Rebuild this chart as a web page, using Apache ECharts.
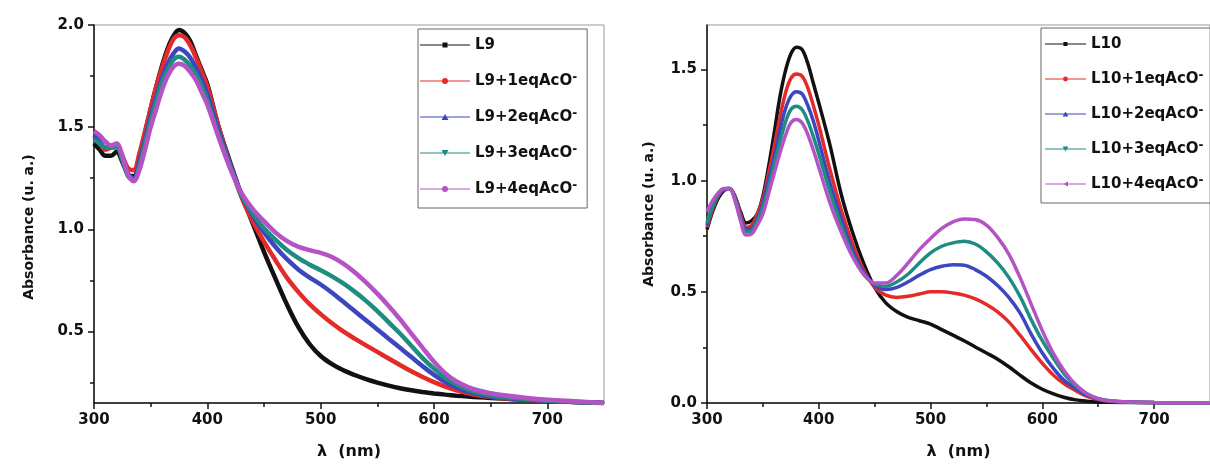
<!DOCTYPE html>
<html><head><meta charset="utf-8">
<script src="https://cdn.jsdelivr.net/npm/echarts@6/dist/echarts.min.js"></script>
<style>html,body{margin:0;padding:0;background:#fff}#c{width:1210px;height:468px}</style>
</head><body><div id="c"></div>
<script>
// wavelength grid (nm) shared by both panels
const wavelengths = [300,305,310,315,320,325,330,335,340,345,350,355,360,365,370,375,380,385,390,395,400,410,420,430,440,450,460,470,480,490,500,510,520,530,540,550,560,570,580,590,600,610,620,630,640,650,660,680,700,725,750];

// Left panel: L9 titration
const L9     = [1.42,1.39,1.36,1.36,1.38,1.33,1.27,1.26,1.35,1.47,1.59,1.70,1.80,1.885,1.945,1.975,1.96,1.92,1.85,1.78,1.71,1.50,1.33,1.17,1.03,0.89,0.76,0.635,0.525,0.44,0.38,0.34,0.31,0.287,0.267,0.25,0.235,0.222,0.212,0.204,0.197,0.191,0.186,0.182,0.178,0.175,0.172,0.166,0.161,0.155,0.15];
const L9_1eq = [1.45,1.42,1.39,1.40,1.41,1.36,1.30,1.29,1.37,1.48,1.59,1.70,1.79,1.87,1.93,1.95,1.94,1.90,1.84,1.77,1.70,1.50,1.32,1.16,1.04,0.94,0.85,0.765,0.695,0.635,0.585,0.54,0.50,0.465,0.432,0.40,0.368,0.336,0.305,0.277,0.252,0.23,0.212,0.198,0.187,0.179,0.173,0.166,0.161,0.155,0.15];
const L9_2eq = [1.46,1.43,1.40,1.41,1.41,1.35,1.27,1.25,1.33,1.44,1.55,1.65,1.74,1.81,1.86,1.885,1.87,1.84,1.79,1.73,1.66,1.48,1.32,1.17,1.07,0.985,0.915,0.855,0.805,0.765,0.73,0.69,0.645,0.60,0.555,0.51,0.465,0.42,0.375,0.33,0.288,0.253,0.226,0.206,0.192,0.182,0.176,0.167,0.161,0.155,0.15];
const L9_3eq = [1.44,1.42,1.40,1.40,1.40,1.34,1.26,1.24,1.31,1.42,1.53,1.63,1.72,1.78,1.83,1.845,1.83,1.80,1.76,1.70,1.63,1.46,1.31,1.17,1.08,1.005,0.95,0.90,0.86,0.828,0.80,0.77,0.735,0.695,0.65,0.60,0.545,0.49,0.43,0.37,0.318,0.273,0.24,0.216,0.199,0.188,0.18,0.17,0.162,0.155,0.15];
const L9_4eq = [1.48,1.46,1.43,1.41,1.42,1.36,1.27,1.235,1.29,1.39,1.50,1.59,1.68,1.75,1.795,1.81,1.80,1.77,1.73,1.67,1.61,1.45,1.30,1.18,1.10,1.04,0.985,0.943,0.915,0.898,0.885,0.865,0.832,0.79,0.74,0.685,0.625,0.56,0.49,0.42,0.352,0.295,0.255,0.228,0.21,0.198,0.189,0.176,0.166,0.158,0.15];

// Right panel: L10 titration
const L10     = [0.78,0.86,0.92,0.955,0.965,0.93,0.86,0.81,0.82,0.85,0.93,1.06,1.21,1.37,1.49,1.57,1.60,1.59,1.53,1.44,1.35,1.16,0.94,0.77,0.63,0.52,0.45,0.41,0.385,0.37,0.355,0.33,0.305,0.28,0.252,0.225,0.197,0.163,0.125,0.09,0.062,0.041,0.025,0.014,0.008,0.004,0.003,0.002,0.001,0.001,0.001];
const L10_1eq = [0.79,0.87,0.93,0.96,0.965,0.93,0.85,0.79,0.80,0.85,0.92,1.03,1.15,1.28,1.39,1.46,1.48,1.47,1.42,1.34,1.25,1.05,0.87,0.72,0.60,0.52,0.485,0.475,0.48,0.49,0.50,0.50,0.495,0.485,0.468,0.443,0.41,0.365,0.305,0.24,0.178,0.125,0.085,0.055,0.03,0.015,0.008,0.004,0.002,0.001,0.001];
const L10_2eq = [0.80,0.88,0.935,0.96,0.965,0.925,0.84,0.78,0.785,0.83,0.90,1.00,1.10,1.22,1.32,1.38,1.40,1.39,1.34,1.27,1.18,0.99,0.83,0.69,0.59,0.53,0.51,0.52,0.545,0.575,0.60,0.615,0.622,0.62,0.60,0.57,0.528,0.475,0.405,0.31,0.225,0.155,0.10,0.065,0.035,0.018,0.009,0.004,0.002,0.001,0.001];
const L10_3eq = [0.81,0.885,0.94,0.962,0.965,0.92,0.83,0.77,0.775,0.82,0.88,0.97,1.07,1.17,1.26,1.32,1.335,1.32,1.27,1.20,1.12,0.95,0.80,0.67,0.58,0.535,0.525,0.545,0.58,0.63,0.675,0.705,0.72,0.727,0.715,0.68,0.63,0.565,0.48,0.375,0.28,0.20,0.128,0.077,0.04,0.02,0.01,0.004,0.002,0.001,0.001];
const L10_4eq = [0.86,0.91,0.945,0.965,0.965,0.91,0.82,0.755,0.76,0.80,0.85,0.94,1.03,1.12,1.20,1.26,1.275,1.26,1.21,1.14,1.06,0.90,0.77,0.66,0.58,0.54,0.54,0.575,0.63,0.69,0.74,0.785,0.815,0.828,0.825,0.80,0.745,0.67,0.565,0.445,0.325,0.222,0.142,0.082,0.042,0.02,0.01,0.004,0.002,0.001,0.001];

const leftNames  = ['L9','L9+1eqAcO-','L9+2eqAcO-','L9+3eqAcO-','L9+4eqAcO-'];
const rightNames = ['L10','L10+1eqAcO-','L10+2eqAcO-','L10+3eqAcO-','L10+4eqAcO-'];
const leftSeries  = [L9, L9_1eq, L9_2eq, L9_3eq, L9_4eq];
const rightSeries = [L10, L10_1eq, L10_2eq, L10_3eq, L10_4eq];

const xMajorTicks = [300,400,500,600,700];
const xMinorTicks = [350,450,550,650];
const leftYMajor  = [0.5,1.0,1.5,2.0];
const leftYMinor  = [0.25,0.75,1.25,1.75];
const rightYMajor = [0.0,0.5,1.0,1.5];
const rightYMinor = [0.25,0.75,1.25];

const colors = ['#111111','#e52a2a','#3b46c0','#1f8c82','#b552c6'];
const LINE = 'M0,2.5H50V3.5H0Z ';
const leftIcons = [
  'path://' + LINE + 'M22.5,0.5h5v5h-5Z',
  'path://' + LINE + 'M28,3A3,3 0 1 1 22,3A3,3 0 1 1 28,3Z',
  'path://' + LINE + 'M25,0L28.5,6L21.5,6Z',
  'path://' + LINE + 'M21.5,0L28.5,0L25,6Z',
  'path://' + LINE + 'M28,3A3,3 0 1 1 22,3A3,3 0 1 1 28,3Z'
];
const rightIcons = leftIcons.slice(0,4).concat(['path://' + LINE + 'M22,3L28,0L28,6Z']);

const FONT = 'DejaVu Sans';
const pair = arr => wavelengths.map((w,i) => [w, arr[i]]);

const legendText = {
  fontFamily: FONT, fontWeight: 'bold', fontSize: 15, color: '#111', lineHeight: 18,
  rich: { sup: { fontFamily: FONT, fontWeight: 'bold', fontSize: 12, color: '#111', verticalAlign: 'top', lineHeight: 4 } }
};
const legendFmt = n => n.endsWith('-') ? n.slice(0, -1) + '{sup|-}' : n;

function xAxes(gridIndex) {
  return [
    { type: 'value', gridIndex, min: 300, max: 750, position: 'bottom',
      axisLine: { show: true, lineStyle: { color: '#111', width: 1.5 } },
      axisTick: { show: true, inside: false, length: 6, customValues: xMajorTicks, lineStyle: { color: '#111', width: 1.5 } },
      axisLabel: { show: true, customValues: xMajorTicks, margin: 10, fontFamily: FONT, fontWeight: 'bold', fontSize: 15, color: '#111', formatter: v => String(Math.round(v)) },
      splitLine: { show: false },
      name: 'λ  (nm)', nameLocation: 'middle', nameGap: 41,
      nameTextStyle: { fontFamily: FONT, fontWeight: 'bold', fontSize: 16, color: '#111' } },
    { type: 'value', gridIndex, min: 300, max: 750, position: 'bottom', offset: 0,
      axisLine: { show: false },
      axisTick: { show: true, inside: false, length: 4, customValues: xMinorTicks, lineStyle: { color: '#111', width: 1.5 } },
      axisLabel: { show: false }, splitLine: { show: false } }
  ];
}
function yAxes(gridIndex, min, max, major, minor, gap, pad) {
  return [
    { type: 'value', gridIndex, min, max, position: 'left',
      axisLine: { show: true, lineStyle: { color: '#111', width: 1.5 } },
      axisTick: { show: true, inside: false, length: 6, customValues: major, lineStyle: { color: '#111', width: 1.5 } },
      axisLabel: { show: true, customValues: major, margin: 10, fontFamily: FONT, fontWeight: 'bold', fontSize: 15, color: '#111', formatter: v => v.toFixed(1) },
      splitLine: { show: false },
      name: 'Absorbance (u. a.)', nameLocation: 'middle', nameGap: gap,
      nameTextStyle: { fontFamily: FONT, fontWeight: 'bold', fontSize: 14, color: '#111', padding: pad } },
    { type: 'value', gridIndex, min, max, position: 'left', offset: 0,
      axisLine: { show: false },
      axisTick: { show: true, inside: false, length: 4, customValues: minor, lineStyle: { color: '#111', width: 1.5 } },
      axisLabel: { show: false }, splitLine: { show: false } }
  ];
}

const series = [];
leftSeries.forEach((arr, i) => series.push({
  name: leftNames[i], type: 'line', xAxisIndex: 0, yAxisIndex: 0, data: pair(arr),
  smooth: 0.35, showSymbol: false, symbol: 'none', color: colors[i],
  lineStyle: { width: 4.5, color: colors[i] }, z: 2 + i, animation: false
}));
rightSeries.forEach((arr, i) => series.push({
  name: rightNames[i], type: 'line', xAxisIndex: 2, yAxisIndex: 2, data: pair(arr),
  smooth: 0.35, showSymbol: false, symbol: 'none', color: colors[i],
  lineStyle: { width: 3.5, color: colors[i] }, z: 2 + i, animation: false
}));

const chart = echarts.init(document.getElementById('c'), null, { renderer: 'canvas' });
chart.setOption({
  animation: false,
  backgroundColor: '#fff',
  grid: [
    { left: 94, top: 25, right: 606, bottom: 65, show: true, borderColor: '#999', borderWidth: 1, backgroundColor: 'transparent' },
    { left: 707, top: 25, right: -7, bottom: 65, show: true, borderColor: '#999', borderWidth: 1, backgroundColor: 'transparent' }
  ],
  xAxis: xAxes(0).concat(xAxes(1)),
  yAxis: yAxes(0, 0.15, 2.0, leftYMajor, leftYMinor, 58, [0, 26, 0, 0])
    .concat(yAxes(1, 0, 1.7, rightYMajor, rightYMinor, 51, [0, 0, 0, 0])),
  legend: [
    { orient: 'vertical', left: 418, top: 29, itemWidth: 50, itemHeight: 6, itemGap: 18,
      padding: [7, 10, 10, 2], borderColor: '#666', borderWidth: 1,
      textStyle: legendText, formatter: legendFmt, selectedMode: false,
      data: leftNames.map((n, i) => ({ name: n, icon: leftIcons[i], itemStyle: { color: colors[i] } })) },
    { orient: 'vertical', left: 1041, top: 28, itemWidth: 41, itemHeight: 6, itemGap: 17,
      padding: [7, 10, 10, 4], borderColor: '#666', borderWidth: 1,
      textStyle: legendText, formatter: legendFmt, selectedMode: false,
      data: rightNames.map((n, i) => ({ name: n, icon: rightIcons[i], itemStyle: { color: colors[i] } })) }
  ],
  series
});
</script></body></html>
